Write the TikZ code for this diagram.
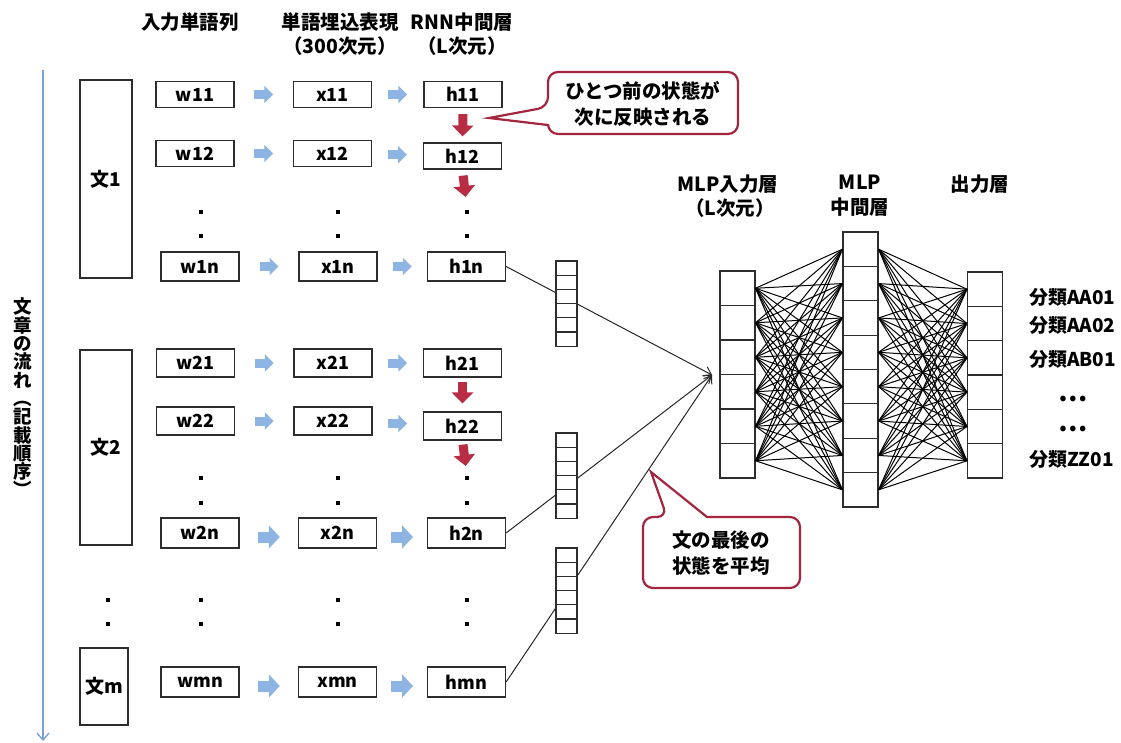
\documentclass[tikz,border=0pt]{standalone}
\usepackage{fontspec}
\setmainfont{Noto Sans CJK JP}
\usetikzlibrary{arrows.meta,calc}
\definecolor{callred}{RGB}{163,38,62}
\definecolor{arrred}{RGB}{184,44,68}
\definecolor{arrblue}{RGB}{141,180,226}
\definecolor{flowblue}{RGB}{120,160,215}
\definecolor{boxline}{RGB}{45,45,45}
\begin{document}
\begin{tikzpicture}[x=1pt,y=-1pt,
  wbox/.style={draw=boxline, line width=1.2pt, minimum width=78pt, minimum height=26pt, inner sep=0pt, font=\bfseries\fontsize{18}{18}\selectfont},
  sbox/.style={draw=boxline, line width=1.2pt, minimum width=52pt, inner sep=0pt, font=\bfseries\fontsize{19}{19}\selectfont},
  head/.style={font=\bfseries\fontsize{19.5}{22}\selectfont, align=center, inner sep=0pt},
  dotnode/.style={fill=black, rectangle, minimum size=3.8pt, inner sep=0pt},
  bluearr/.style={draw=arrblue, line width=9pt, -{Triangle[length=9pt,width=17pt]}},
  bigblue/.style={draw=arrblue, line width=11pt, -{Triangle[length=11pt,width=23pt]}},
  redarr/.style={draw=arrred, line width=9pt, -{Triangle[length=11pt,width=21pt]}},
  cell/.style={draw=boxline, line width=1.1pt, fill=white, minimum width=35pt, inner sep=0pt},
  vcell/.style={draw=boxline, line width=1.1pt, fill=white, minimum width=21pt, minimum height=14.2pt, inner sep=0pt},
  edge/.style={black, line width=1pt},
  feed/.style={black!85, line width=1pt, -{Straight Barb[length=7pt,width=10pt]}},
  callout/.style={draw=callred, fill=white, line width=2.2pt},
  ctext/.style={font=\bfseries\fontsize{19.5}{26}\selectfont, align=center, inner sep=0pt},
  lbl/.style={font=\bfseries\fontsize{19}{19}\selectfont, anchor=west, inner sep=0pt}
]
\useasboundingbox (0,0) rectangle (1121,742);

% headings
\node[head] (hd1) at (190,22) {入力単語列};
\node[head] (hd2) at (340,22) {単語埋込表現};
\node[head] (hd2b) at (340,46) {（300次元）};
\node[head] (hd3) at (462,22) {RNN中間層};
\node[head] (hd3b) at (462,46) {（L次元）};

% flow arrow + label
\coordinate (ftop) at (43,70);
\coordinate (fbot) at (43,741);
\draw[flowblue, line width=1.3pt, -{Straight Barb[length=7pt,width=12pt]}] (ftop) -- (fbot);
\node[font=\bfseries\fontsize{18.5}{18.3}\selectfont, align=center, inner sep=0pt] (flowlbl) at (22.5,397.5) {文\\章\\の\\流\\れ\\︵\\記\\載\\順\\序\\︶};

% sentence boxes
\node[sbox, minimum height=198pt] (s1) at (106,179) {文1};
\node[sbox, minimum height=195pt] (s2) at (106,447.5) {文2};
\node[sbox, minimum width=48pt, minimum height=77pt] (sm) at (104,686.5) {文m};

% word rows
\node[wbox] (w11) at (195,94.5) {w11};
\node[wbox] (x11) at (332.5,94.5) {x11};
\node[wbox] (h11) at (463,94.5) {h11};
\node[wbox] (w12) at (195,153.5) {w12};
\node[wbox] (x12) at (332.5,153.5) {x12};
\node[wbox] (h12) at (462.5,156) {h12};
\node[wbox, minimum height=29pt] (w1n) at (200,266.5) {w1n};
\node[wbox, minimum height=29pt] (x1n) at (338,266.5) {x1n};
\node[wbox, minimum height=29pt] (h1n) at (466.5,266.5) {h1n};
\node[wbox, minimum height=28pt] (w21) at (195.5,363) {w21};
\node[wbox, minimum height=28pt] (x21) at (333,363) {x21};
\node[wbox, minimum height=28pt] (h21) at (462.5,363) {h21};
\node[wbox, minimum height=28pt] (w22) at (195.5,421) {w22};
\node[wbox, minimum height=28pt] (x22) at (333,421) {x22};
\node[wbox, minimum height=28pt] (h22) at (462.5,426) {h22};
\node[wbox, minimum height=30pt] (w2n) at (200,533) {w2n};
\node[wbox, minimum height=30pt] (x2n) at (337.5,533) {x2n};
\node[wbox, minimum height=30pt] (h2n) at (466.5,533) {h2n};
\node[wbox, minimum height=30pt] (wmn) at (200,682) {wmn};
\node[wbox, minimum height=30pt] (xmn) at (337.5,682) {xmn};
\node[wbox, minimum height=30pt] (hmn) at (466.5,682) {hmn};

% dots
\foreach \c/\x in {w/201,x/338,h/467}{
  \node[dotnode] (d\c1a) at (\x,212) {};
  \node[dotnode] (d\c1b) at (\x,236) {};
  \node[dotnode] (d\c2a) at (\x,478) {};
  \node[dotnode] (d\c2b) at (\x,503) {};
  \node[dotnode] (d\c3a) at (\x,600) {};
  \node[dotnode] (d\c3b) at (\x,624) {};
}
\node[dotnode] (ds3a) at (108,600) {};
\node[dotnode] (ds3b) at (108,624) {};

% blue arrows
\foreach \r in {11,12,1n,21,22}{
  \draw[bluearr] ($(w\r.east)!0.5!(x\r.west)+(-9.5,0)$) -- ($(w\r.east)!0.5!(x\r.west)+(9.5,0)$);
  \draw[bluearr] ($(x\r.east)!0.5!(h\r.west)+(-9.5,0)$) -- ($(x\r.east)!0.5!(h\r.west)+(9.5,0)$);
}
\foreach \r in {2n,mn}{
  \draw[bigblue] ($(w\r.east)!0.5!(x\r.west)+(-11,4)$) -- ($(w\r.east)!0.5!(x\r.west)+(11,4)$);
  \draw[bigblue] ($(x\r.east)!0.5!(h\r.west)+(-11,4)$) -- ($(x\r.east)!0.5!(h\r.west)+(11,4)$);
}

% red arrows
\draw[redarr, shorten <=6pt, shorten >=6pt] (h11.south) -- (h12.north);
\draw[redarr, shorten <=6pt, shorten >=13pt] (h12.south) -- (dh1a.north);
\draw[redarr, shorten <=4pt, shorten >=8pt] (h21.south) -- (h22.north);
\draw[redarr, shorten <=4pt, shorten >=10pt] (h22.south) -- (dh2a.north);

% feed lines to MLP
\coordinate (conv) at (712,375);
\draw[feed] (h1n.east) -- (conv);
\draw[feed] (h2n.east) -- (conv);
\draw[feed] (hmn.east) -- (conv);

% small averaged vectors
\foreach \v/\t in {1/261,2/433,3/548}{
  \foreach \k in {1,...,6}{
    \node[vcell] (v\v-\k) at (566.5,{\t+14.2*(\k-0.5)}) {};
  }
}

% MLP layers
\node[head] (mh1) at (728,184) {MLP入力層};
\node[head] (mh1b) at (730,208) {（L次元）};
\node[head] (mh2) at (860,182) {MLP};
\node[head] (mh2b) at (860,207) {中間層};
\node[head] (mh3) at (980,184) {出力層};

\foreach \i in {1,...,6}{
  \node[cell, minimum height=34.5pt] (in\i) at (737.5,{271+34.5*(\i-0.5)}) {};
  \node[cell, minimum height=34.33pt] (out\i) at (985,{272+34.33*(\i-0.5)}) {};
}
\foreach \j in {1,...,8}{
  \node[cell, minimum height=34.375pt] (mid\j) at (860.5,{232+34.375*(\j-0.5)}) {};
}
\foreach \i in {1,...,6}{
  \foreach \j in {1,...,8}{
    \draw[edge] (in\i.east) -- (mid\j.west);
    \draw[edge] (mid\j.east) -- (out\i.west);
  }
}

% output labels
\node[lbl] (o1) at (1029,297) {分類AA01};
\node[lbl] (o2) at (1029,325) {分類AA02};
\node[lbl] (o3) at (1029,359) {分類AB01};
\node[font=\bfseries\fontsize{26}{26}\selectfont, inner sep=0pt] (o4) at (1073,399) {…};
\node[font=\bfseries\fontsize{26}{26}\selectfont, inner sep=0pt] (o5) at (1073,429) {…};
\node[lbl] (o6) at (1029,459) {分類ZZ01};

% callout 1
\path[callout] (548,125) [rounded corners=10pt] -- (548,134) -- (738,134) -- (738,72) -- (548,72) -- (548,107) [sharp corners] -- (489,118) -- cycle;
\node[ctext] (c1) at (643,104) {ひとつ前の状態が\\次に反映される};

% callout 2
\path[callout] (707,517) [rounded corners=10pt] -- (800,517) -- (800,588) -- (643,588) -- (643,517) -- (667,517) [sharp corners] -- (651,472) -- cycle;
\node[ctext] (c2) at (721,553) {文の最後の\\状態を平均};
\end{tikzpicture}
\end{document}
